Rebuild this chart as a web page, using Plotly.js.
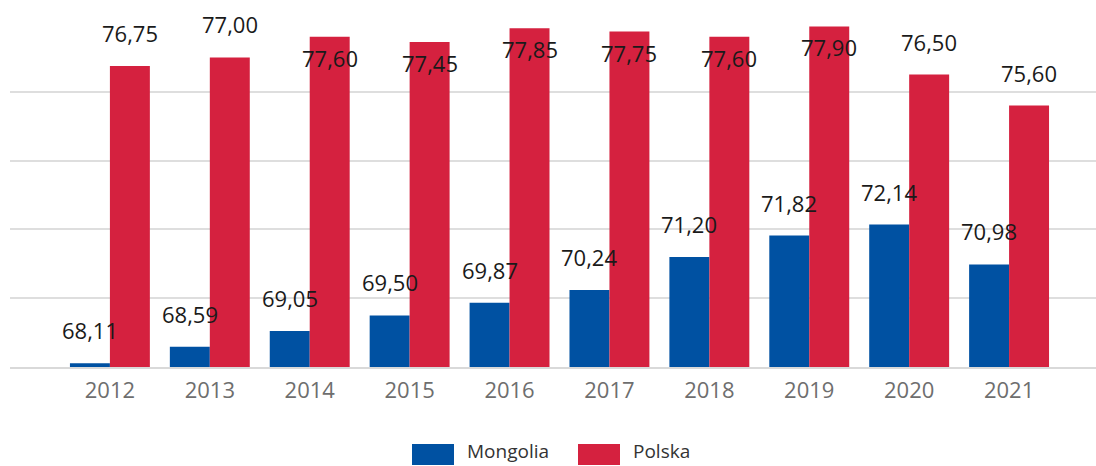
<!DOCTYPE html>
<html>
<head>
<meta charset="utf-8">
<script src="https://cdn.plot.ly/plotly-3.0.1.min.js"></script>
<style>html,body{margin:0;padding:0;background:#fff;}#chart{width:1096px;height:466px;}</style>
</head>
<body>
<div id="chart"></div>
<script>
const years = ['2012','2013','2014','2015','2016','2017','2018','2019','2020','2021'];
const seriesNames = ['Mongolia', 'Polska'];
const mongolia = [68.11, 68.59, 69.05, 69.50, 69.87, 70.24, 71.20, 71.82, 72.14, 70.98];
const polska = [76.75, 77.00, 77.60, 77.45, 77.85, 77.75, 77.60, 77.90, 76.50, 75.60];
const colors = ['#0051a2', '#d5213f'];

const FONT = '"Open Sans", "Segoe UI", "DejaVu Sans", sans-serif';
const fmt = v => v.toFixed(2).replace('.', ',');

const traces = [mongolia, polska].map((vals, k) => ({
  type: 'bar',
  name: seriesNames[k],
  x: years,
  y: vals,
  marker: {color: colors[k]},
  showlegend: false,
  hoverinfo: 'x+y'
}));

const annotations = [];
[mongolia, polska].forEach((vals, k) => {
  vals.forEach((v, i) => {
    const inside = v > 77.2;
    annotations.push({
      x: i + (k === 0 ? -0.2 : 0.2),
      y: v,
      xref: 'x', yref: 'y',
      text: fmt(v),
      showarrow: false,
      xanchor: 'center', yanchor: 'middle',
      yshift: inside ? -21 : 33,
      font: {family: FONT, size: 22, color: '#1a1a1a'}
    });
  });
});

// custom legend
const shapes = [];
const legendX = [412, 578];
seriesNames.forEach((n, k) => {
  shapes.push({
    type: 'rect', xref: 'paper', yref: 'paper',
    x0: (legendX[k] - 10) / 1086, x1: (legendX[k] + 42 - 10) / 1086,
    y0: -(444 - 367) / 344, y1: -(465 - 367) / 344,
    fillcolor: colors[k], line: {width: 0}
  });
  annotations.push({
    xref: 'paper', yref: 'paper',
    x: (legendX[k] + 53 - 10) / 1086,
    y: -(451 - 367) / 344,
    xanchor: 'left', yanchor: 'middle',
    text: n, showarrow: false,
    font: {family: FONT, size: 19, color: '#333333'}
  });
});

const layout = {
  width: 1096, height: 466,
  margin: {l: 10, r: 0, t: 23, b: 99},
  paper_bgcolor: '#ffffff', plot_bgcolor: '#ffffff',
  barmode: 'group', bargap: 0.2, bargroupgap: 0,
  showlegend: false,
  font: {family: FONT},
  xaxis: {
    type: 'category',
    range: [-1, 9.87],
    showgrid: false, zeroline: false,
    showline: true, linecolor: '#d9d9d9', linewidth: 2,
    ticks: '', ticklabelstandoff: 3,
    tickfont: {family: FONT, size: 22, color: '#6e6e6e'}
  },
  yaxis: {
    range: [68, 78],
    dtick: 2, tick0: 68,
    showticklabels: false, ticks: '',
    showgrid: true, gridcolor: '#dedede', gridwidth: 2,
    zeroline: false, showline: false
  },
  annotations: annotations,
  shapes: shapes
};

Plotly.newPlot('chart', traces, layout, {displayModeBar: false, staticPlot: true});
</script>
</body>
</html>
